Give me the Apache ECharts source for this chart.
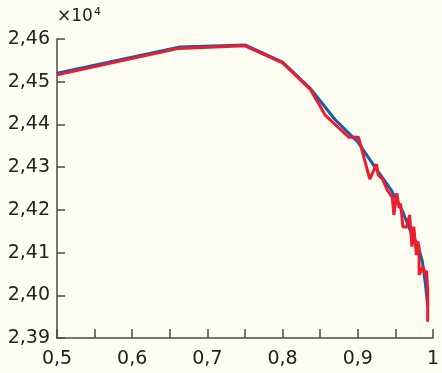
<!DOCTYPE html>
<html>
<head>
<meta charset="utf-8">
<script src="https://cdn.jsdelivr.net/npm/echarts@6/dist/echarts.min.js"></script>
<style>
html,body{margin:0;padding:0;background:#fefdf1;}
#c{width:442px;height:373px;}
</style>
</head>
<body>
<div id="c"></div>
<script>
// Blue series (smooth)
const blueX = [0.5, 0.662, 0.75, 0.8, 0.837, 0.87, 0.9, 0.925, 0.945, 0.96, 0.972, 0.98, 0.986, 0.99, 0.993];
const blueY = [24520, 24581, 24586, 24546, 24484, 24411, 24359, 24295, 24245, 24195, 24141, 24118, 24078, 24026, 23975];
// Red series (noisy)
const redX = [0.5, 0.662, 0.75, 0.8, 0.837, 0.857, 0.888, 0.901, 0.916, 0.925, 0.927, 0.933, 0.939, 0.946, 0.948, 0.952, 0.955, 0.957, 0.960, 0.965, 0.969, 0.972, 0.9745, 0.978, 0.980, 0.9815, 0.9815, 0.9868, 0.990, 0.9915, 0.993, 0.993];
const redY = [24516, 24578, 24584, 24544, 24482, 24421, 24370, 24370, 24272, 24307, 24282, 24272, 24247, 24229, 24188, 24239, 24204, 24215, 24160, 24160, 24188, 24114, 24161, 24094, 24126, 24110, 24048, 24067, 24048, 24058, 24012, 23938];
// Axis ticks
const xMin = 0.5, xMax = 1.0, xStep = 0.05;
const yMin = 23900, yMax = 24600, yStep = 100;

const fmtComma = s => s.replace('.', ',');
const chart = echarts.init(document.getElementById('c'), null, {renderer: 'canvas'});
const font = 'DejaVu Sans';
chart.setOption({
  backgroundColor: '#fefdf1',
  animation: false,
  grid: {left: 57, right: 6, top: 39, bottom: 35},
  xAxis: {
    type: 'value', min: xMin, max: xMax, interval: xStep,
    axisLine: {lineStyle: {color: '#4a4a4a', width: 1.5}},
    axisTick: {inside: true, length: 9, lineStyle: {color: '#4a4a4a', width: 1.5}},
    splitLine: {show: false},
    axisLabel: {
      color: '#222', fontFamily: font, fontSize: 19, margin: 12,
      formatter: v => (Math.round(v * 100) % 10 === 0) ? fmtComma(String(Math.round(v * 10) / 10)) : ''
    }
  },
  yAxis: {
    type: 'value', min: yMin, max: yMax, interval: yStep,
    axisLine: {show: true, lineStyle: {color: '#4a4a4a', width: 1.5}},
    axisTick: {show: true, inside: true, length: 8, lineStyle: {color: '#4a4a4a', width: 1.5}},
    splitLine: {show: false},
    axisLabel: {
      color: '#222', fontFamily: font, fontSize: 19, margin: 7,
      formatter: v => (v / 10000).toFixed(2).replace('.', ',')
    }
  },
  graphic: [{
    type: 'text', left: 57, top: 7,
    style: {
      text: '{a|×10}{b|4}',
      rich: {
        a: {fontFamily: font, fontSize: 17, fill: '#222'},
        b: {fontFamily: font, fontSize: 11, fill: '#222', verticalAlign: 'top', padding: [0, 0, 8, 1]}
      }
    }
  }],
  series: [
    {type: 'line', data: blueX.map((x, i) => [x, blueY[i]]), symbol: 'none',
     lineStyle: {color: '#1a5da6', width: 3}, z: 2},
    {type: 'line', data: redX.map((x, i) => [x, redY[i]]), symbol: 'none',
     lineStyle: {color: '#ec1c2d', width: 3}, z: 3}
  ]
});
</script>
</body>
</html>
